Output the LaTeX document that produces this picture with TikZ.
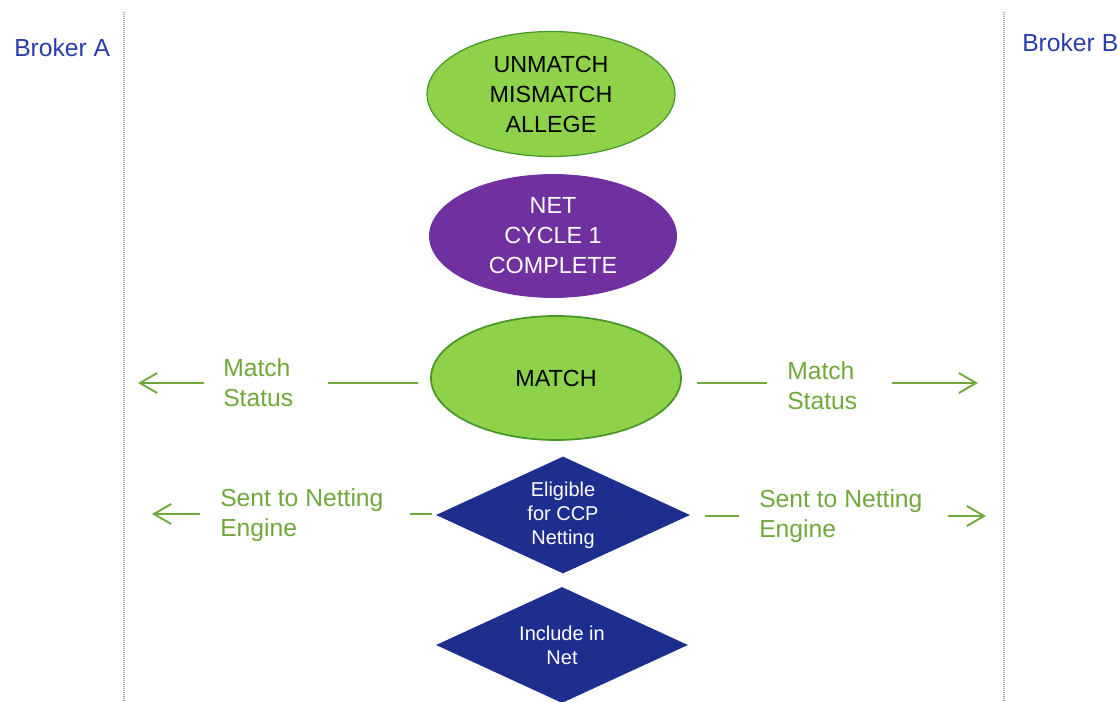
\documentclass[tikz,border=0pt]{standalone}
\usepackage{fontspec}
\setmainfont{Liberation Sans}
\usetikzlibrary{shapes.geometric,arrows.meta}
\definecolor{brokerblue}{RGB}{40,60,170}
\definecolor{lgreen}{RGB}{112,168,60}
\definecolor{ellgreen}{RGB}{142,210,74}
\definecolor{ellborder}{RGB}{70,150,40}
\definecolor{netpurple}{RGB}{112,48,160}
\definecolor{diablue}{RGB}{30,46,142}
\tikzset{
  divider/.style={gray!70, line width=1.2pt, dash pattern=on 0.75pt off 0.75pt},
  broker/.style={text=brokerblue, font=\fontsize{18.5}{20}\selectfont, inner sep=0pt, anchor=west},
  stateell/.style={ellipse, draw=ellborder, line width=0.9pt, inner sep=0pt, align=center,
    font=\fontsize{17.5}{22.5}\selectfont},
  greenell/.style={stateell, fill=ellgreen, text=black},
  purpleell/.style={stateell, fill=netpurple, draw=netpurple, text=white},
  decision/.style={diamond, shape aspect=2.17, fill=diablue, text=white, inner sep=0pt, align=center,
    font=\fontsize{15}{18}\selectfont},
  lbl/.style={text=lgreen, inner sep=0pt, anchor=west, align=left, font=\fontsize{18.5}{22.5}\selectfont},
  conn/.style={draw=lgreen, line width=1.4pt},
  arr/.style={conn, -{Straight Barb[length=13pt,width=15pt,line width=1.4pt]}},
}
\begin{document}
\begin{tikzpicture}[x=0.75pt,y=-0.75pt]
\useasboundingbox (0,0) rectangle (1118,702);
% dividers
\coordinate (dAt) at (124,12); \coordinate (dAb) at (124,702);
\coordinate (dBt) at (1004,12); \coordinate (dBb) at (1004,702);
\draw[divider] (dAt) -- (dAb);
\draw[divider] (dBt) -- (dBb);
\node[broker] (brokerA) at (14,48) {Broker A};
\node[broker] (brokerB) at (1022,43) {Broker B};
% states
\node[greenell, minimum width=186pt, minimum height=93.75pt] (unmatch) at (551,94) {UNMATCH\\MISMATCH\\ALLEGE};
\node[purpleell, minimum width=185pt, minimum height=92pt] (net) at (553,236) {NET\\CYCLE 1\\COMPLETE};
\node[greenell, minimum width=187.5pt, minimum height=93pt, line width=1.3pt] (match) at (556,378) {MATCH};
\node[decision, minimum width=190.5pt, minimum height=87.75pt] (elig) at (563,515) {Eligible\\for CCP\\Netting};
\node[decision, minimum width=189pt, minimum height=87pt] (incl) at (562,645) {Include in\\Net};
% labels
\node[lbl] (msL) at (223,383) {Match\\Status};
\node[lbl] (msR) at (787,386) {Match\\Status};
\node[lbl] (snL) at (220,515) {Sent to Netting\\Engine};
\node[lbl] (snR) at (759,516) {Sent to Netting\\Engine};
% connector pieces
\coordinate (mL1) at (418,383); \coordinate (mL2) at (328,383);
\coordinate (mL3) at (204,383); \coordinate (mL4) at (138,383);
\coordinate (mR1) at (697,383); \coordinate (mR2) at (767,383);
\coordinate (mR3) at (892,383); \coordinate (mR4) at (978,383);
\coordinate (sL1) at (432,514); \coordinate (sL2) at (410,514);
\coordinate (sL3) at (200,514); \coordinate (sL4) at (152,514);
\coordinate (sR1) at (705,516); \coordinate (sR2) at (739,516);
\coordinate (sR3) at (948,516); \coordinate (sR4) at (986,516);
\draw[conn] (mL1) -- (mL2);
\draw[arr] (mL3) -- (mL4);
\draw[conn] (mR1) -- (mR2);
\draw[arr] (mR3) -- (mR4);
\draw[conn] (sL1) -- (sL2);
\draw[arr] (sL3) -- (sL4);
\draw[conn] (sR1) -- (sR2);
\draw[arr] (sR3) -- (sR4);
\end{tikzpicture}
\end{document}
